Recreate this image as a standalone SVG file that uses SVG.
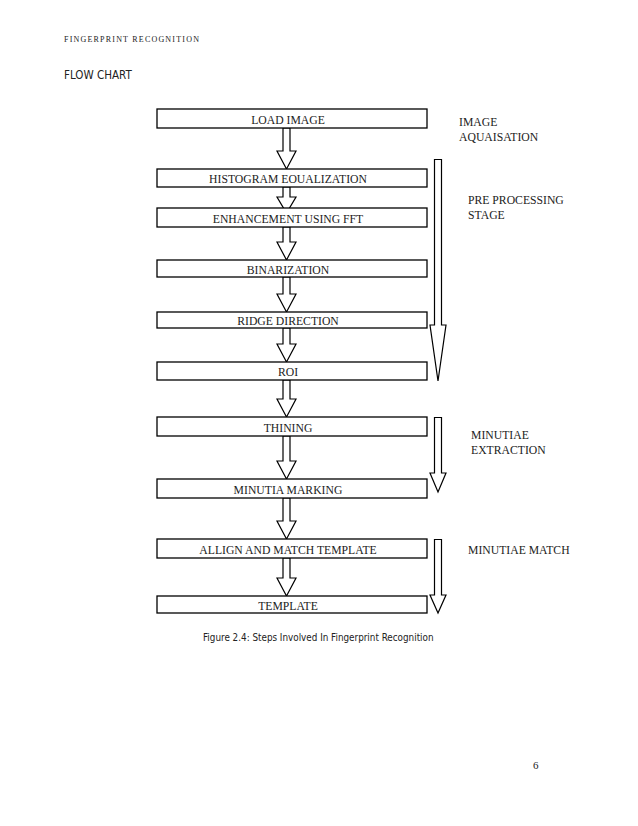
<svg xmlns="http://www.w3.org/2000/svg" width="638" height="826" viewBox="0 0 638 826">
<style>
.box{fill:#fff;stroke:#000;stroke-width:1.3}
.arr{fill:#fff;stroke:#000;stroke-width:1.2;stroke-linejoin:miter}
.t{font-family:"Liberation Serif",serif;font-size:11.7px;fill:#222}
.c{text-anchor:middle}
.s{font-family:"DejaVu Sans Condensed","DejaVu Sans",sans-serif;fill:#222}
</style>
<rect width="638" height="826" fill="#fff"/>
<text x="64" y="42" font-family="Liberation Serif,serif" font-size="8" letter-spacing="1.2" fill="#222">FINGERPRINT RECOGNITION</text>
<text x="64" y="79" class="s" font-size="11.5">FLOW CHART</text>

<g id="connectors">
<path class="arr" d="M283,128 V151 H277 L286.5,169 L296,151 H290 V128 Z"/>
<path class="arr" d="M283,187 V197 H277 L286.5,213 L296,197 H290 V187 Z"/>
<path class="arr" d="M283,227 V242 H277 L286.5,260 L296,242 H290 V227 Z"/>
<path class="arr" d="M283,277 V294 H277 L286.5,312 L296,294 H290 V277 Z"/>
<path class="arr" d="M283,328 V344 H277 L286.5,362 L296,344 H290 V328 Z"/>
<path class="arr" d="M283,380 V399 H277 L286.5,417 L296,399 H290 V380 Z"/>
<path class="arr" d="M283,436 V461 H277 L286.5,479 L296,461 H290 V436 Z"/>
<path class="arr" d="M283,498 V521 H277 L286.5,539 L296,521 H290 V498 Z"/>
<path class="arr" d="M283,558 V578 H277 L286.5,596 L296,578 H290 V558 Z"/>
<path class="arr" d="M434.5,159.5 V325 H430 L438,381 L446,325 H441.5 V159.5 Z"/>
<path class="arr" d="M434.5,417.5 V473 H430 L438,492 L446,473 H441.5 V417.5 Z"/>
<path class="arr" d="M434.5,539.5 V595 H430 L438,613 L446,595 H441.5 V539.5 Z"/>
</g>

<g id="n1"><rect class="box" x="157" y="109" width="270" height="19"/><text class="t c" x="288" y="124">LOAD IMAGE</text></g>
<g id="n2"><rect class="box" x="157" y="169" width="270" height="18"/><text class="t c" x="288" y="183">HISTOGRAM EOUALIZATION</text></g>
<g id="n3"><rect class="box" x="157" y="208" width="270" height="19"/><text class="t c" x="288" y="223">ENHANCEMENT USING FFT</text></g>
<g id="n4"><rect class="box" x="157" y="260" width="270" height="17"/><text class="t c" x="288" y="274">BINARIZATION</text></g>
<g id="n5"><rect class="box" x="157" y="312" width="270" height="16"/><text class="t c" x="288" y="325">RIDGE DIRECTION</text></g>
<g id="n6"><rect class="box" x="157" y="362" width="270" height="18"/><text class="t c" x="288" y="376">ROI</text></g>
<g id="n7"><rect class="box" x="157" y="417" width="270" height="19"/><text class="t c" x="288" y="432">THINING</text></g>
<g id="n8"><rect class="box" x="157" y="479" width="270" height="19"/><text class="t c" x="288" y="494">MINUTIA MARKING</text></g>
<g id="n9"><rect class="box" x="157" y="539" width="270" height="19"/><text class="t c" x="288" y="554">ALLIGN AND MATCH TEMPLATE</text></g>
<g id="n10"><rect class="box" x="157" y="596" width="270" height="17"/><text class="t c" x="288" y="610">TEMPLATE</text></g>

<g id="labels">
<text class="t" x="459" y="126">IMAGE</text>
<text class="t" x="459" y="141">AQUAISATION</text>
<text class="t" x="468" y="204">PRE PROCESSING</text>
<text class="t" x="468" y="219">STAGE</text>
<text class="t" x="471" y="439">MINUTIAE</text>
<text class="t" x="471" y="454">EXTRACTION</text>
<text class="t" x="468" y="554">MINUTIAE MATCH</text>
</g>
<text x="203" y="641" class="s" font-size="9.8">Figure 2.4: Steps Involved In Fingerprint Recognition</text>
<text x="533" y="769" font-family="Liberation Serif,serif" font-size="11" fill="#222">6</text>
</svg>
